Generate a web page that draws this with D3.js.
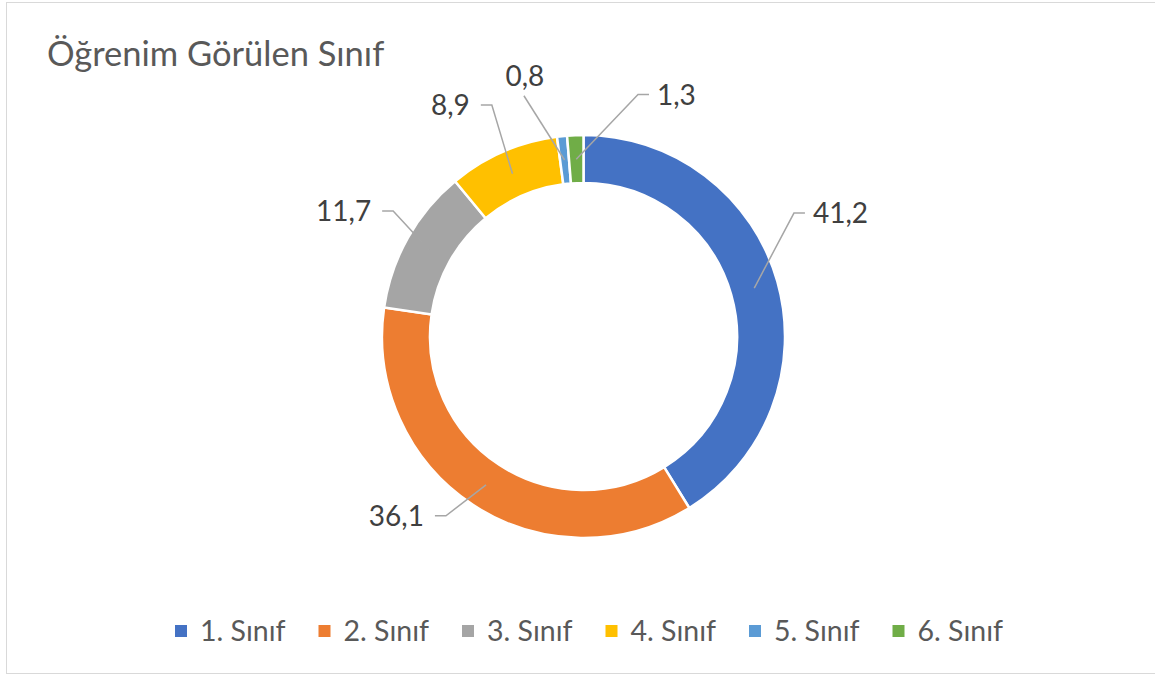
<!DOCTYPE html>
<html lang="tr">
<head>
  <meta charset="UTF-8">
  <script src="https://d3js.org/d3.v7.min.js"></script>
  <title>Öğrenim Görülen Sınıf</title>
  <style>
    body { margin: 0; background: #fff; }
    text { font-family: Lato, "Open Sans", sans-serif; }
  </style>
</head>
<body>
<script>
  // veriler
  let categories = ['1. Sınıf', '2. Sınıf', '3. Sınıf', '4. Sınıf', '5. Sınıf', '6. Sınıf']
  let values = [41.2, 36.1, 11.7, 8.9, 0.8, 1.3]
  let labels = ['41,2', '36,1', '11,7', '8,9', '0,8', '1,3']
  let colors = ['#4472C4', '#ED7D31', '#A5A5A5', '#FFC000', '#5B9BD5', '#70AD47']

  // etiket kırılma noktası (derece, yarıçap) ve yönü
  let labelAngle = [59.6, 217.5, 303.4, 338.4, 346.1, 12.7]
  let labelRadius = [244, 226, 228, 249, 248, 248]
  let labelSide = ['right', 'left', 'left', 'left', 'top', 'right']

  let width = 1155
  let height = 675
  let cx = 583.5
  let cy = 336.5
  let outerR = 201.5
  let innerR = 153.5

  let svg = d3.select('body')
    .append('svg')
    .attr('width', width)
    .attr('height', height)

  // çerçeve
  svg.append('rect')
    .attr('x', 6.5)
    .attr('y', 2.5)
    .attr('width', width)
    .attr('height', 671)
    .attr('fill', '#fff')
    .attr('stroke', '#D9D9D9')
    .attr('stroke-width', 1)

  svg.append('text')
    .attr('x', 47)
    .attr('y', 66)
    .attr('font-size', 34.5)
    .attr('fill', '#595959')
    .text('Öğrenim Görülen Sınıf')

  let pie = d3.pie().sort(null).value(d => d)
  let arcs = pie(values)

  let arc = d3.arc()
    .innerRadius(innerR)
    .outerRadius(outerR)

  let g = svg.append('g').attr('transform', `translate(${cx},${cy})`)

  g.selectAll('path')
    .data(arcs)
    .enter()
    .append('path')
    .attr('d', arc)
    .attr('fill', (d, i) => colors[i])
    .attr('stroke', '#fff')
    .attr('stroke-width', 2.5)

  // etiket çizgileri ve değerler
  let polar = (deg, r) => {
    let a = deg * Math.PI / 180
    return [r * Math.sin(a), -r * Math.cos(a)]
  }

  arcs.forEach((d, i) => {
    let start = arc.centroid(d)
    let elbow = polar(labelAngle[i], labelRadius[i])
    let side = labelSide[i]
    let pts = [start, elbow]
    if (side === 'right') pts.push([elbow[0] + 11, elbow[1]])
    if (side === 'left') pts.push([elbow[0] - 11, elbow[1]])

    g.append('path')
      .attr('d', d3.line()(pts))
      .attr('fill', 'none')
      .attr('stroke', '#A6A6A6')
      .attr('stroke-width', 1.5)

    let t = g.append('text')
      .attr('font-size', 28)
      .attr('fill', '#404040')
      .text(labels[i])
    if (side === 'right') {
      t.attr('x', elbow[0] + 19).attr('y', elbow[1] + 10).attr('text-anchor', 'start')
    } else if (side === 'left') {
      t.attr('x', elbow[0] - 22).attr('y', elbow[1] + 10).attr('text-anchor', 'end')
    } else {
      t.attr('x', elbow[0] + 1).attr('y', elbow[1] - 10).attr('text-anchor', 'middle')
    }
  })

  // lejant
  let legendX = d3.scaleLinear()
    .domain([0, categories.length - 1])
    .range([175, 175 + 5 * 143.5])

  let legend = svg.selectAll('.legend')
    .data(categories)
    .enter()
    .append('g')
    .attr('class', 'legend')
    .attr('transform', (d, i) => `translate(${legendX(i)},631)`)

  legend.append('rect')
    .attr('x', 0)
    .attr('y', -6)
    .attr('width', 12)
    .attr('height', 12)
    .attr('fill', (d, i) => colors[i])

  legend.append('text')
    .attr('x', 25)
    .attr('y', 9.5)
    .attr('font-size', 28.5)
    .attr('fill', '#595959')
    .text(d => d)
</script>
</body>
</html>
